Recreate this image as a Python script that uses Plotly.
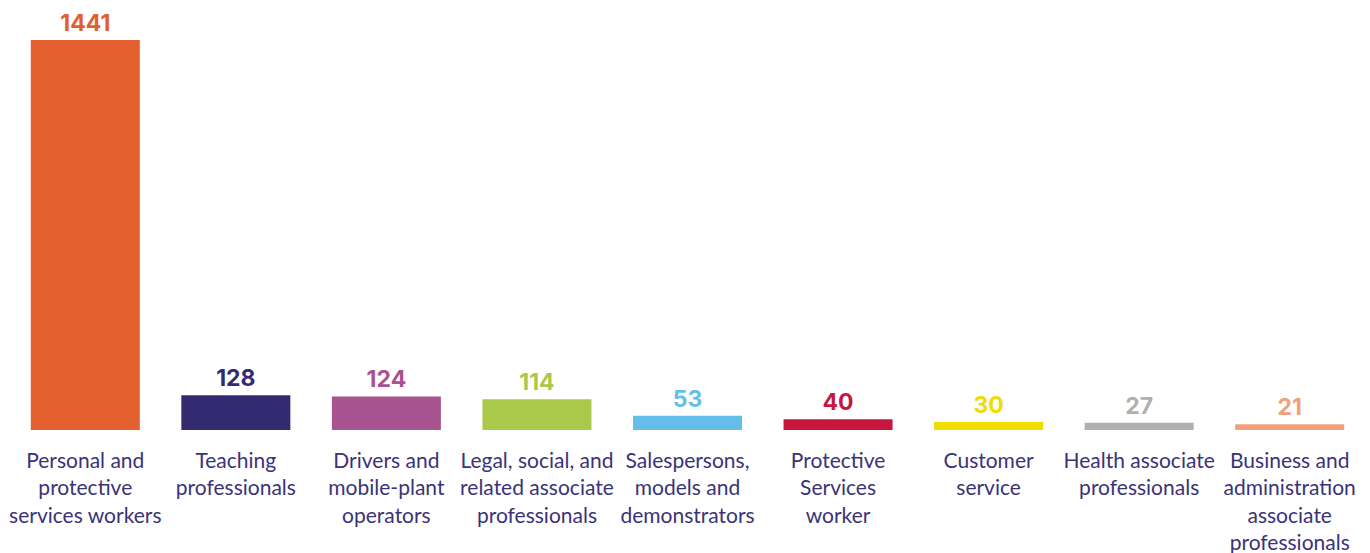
import plotly.graph_objects as go

categories = [
    "Personal and<br>protective<br>services workers",
    "Teaching<br>professionals",
    "Drivers and<br>mobile-plant<br>operators",
    "Legal, social, and<br>related associate<br>professionals",
    "Salespersons,<br>models and<br>demonstrators",
    "Protective<br>Services<br>worker",
    "Customer<br>service",
    "Health associate<br>professionals",
    "Business and<br>administration<br>associate<br>professionals",
]
values = [1441, 128, 124, 114, 53, 40, 30, 27, 21]
colors = ["#E35F2E", "#332A72", "#A8538F", "#AAC94B", "#63BFEA",
          "#C8173F", "#F0DC00", "#B0B0B0", "#F0A07A"]

xs = list(range(len(values)))

fig = go.Figure(go.Bar(
    x=xs,
    y=values,
    marker=dict(color=colors, line=dict(width=0)),
    text=[str(v) for v in values],
    textposition="outside",
    textfont=dict(family="Inter, Lato, sans-serif", size=23, color=colors, weight="bold"),
    cliponaxis=False,
    width=0.724,
))

fig.update_layout(
    width=1370, height=553,
    margin=dict(l=10, r=5, t=40, b=123, autoexpand=False),
    paper_bgcolor="white", plot_bgcolor="white",
    showlegend=False,
    xaxis=dict(
        tickmode="array", tickvals=xs, ticktext=categories,
        range=[-0.5, len(values) - 0.5],
        showgrid=False, zeroline=False, showline=False, ticks="",
        tickfont=dict(family="Lato, sans-serif", size=21, color="#3A3378"),
        ticklabelstandoff=16,
        automargin=False,
    ),
    yaxis=dict(range=[0, 1441], visible=False, automargin=False),
)

fig.write_html("out.html")
